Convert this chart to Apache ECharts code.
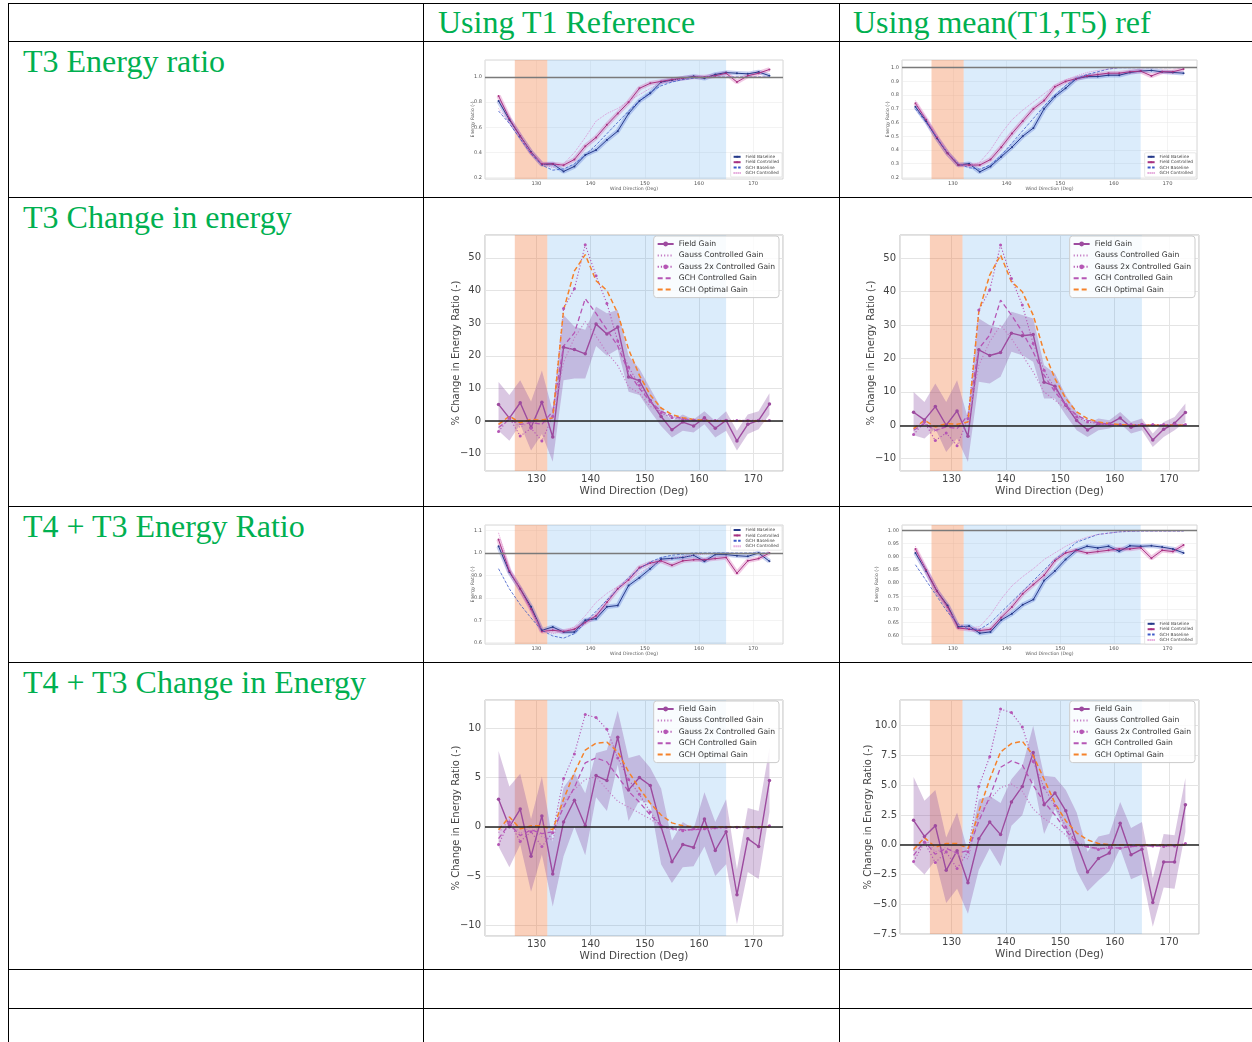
<!DOCTYPE html>
<html>
<head>
<meta charset="utf-8">
<script src="https://cdn.jsdelivr.net/npm/echarts@6/dist/echarts.min.js"></script>
<style>
body { margin: 0; background: #fff; }
#page { position: relative; width: 1252px; height: 1042px; overflow: hidden; background: #fff; }
#page svg { position: absolute; left: 0; top: 0; }
.ch { position: absolute; }
.hd { font-family: 'Liberation Serif', 'Times New Roman', serif; font-size: 32px; fill: #00b050; }
</style>
</head>
<body>
<div id="page">
<svg width="1252" height="1042">
  <g stroke="#000" stroke-width="1">
    <line x1="8" y1="3.5" x2="1252" y2="3.5"/>
    <line x1="8" y1="41.5" x2="1252" y2="41.5"/>
    <line x1="8" y1="197.5" x2="1252" y2="197.5"/>
    <line x1="8" y1="506.5" x2="1252" y2="506.5"/>
    <line x1="8" y1="662.5" x2="1252" y2="662.5"/>
    <line x1="8" y1="969.5" x2="1252" y2="969.5"/>
    <line x1="8" y1="1008.5" x2="1252" y2="1008.5"/>
    <line x1="8.5" y1="3" x2="8.5" y2="1042"/>
    <line x1="423.5" y1="3" x2="423.5" y2="1042"/>
    <line x1="839.5" y1="3" x2="839.5" y2="1042"/>
  </g>
  <text class="hd" x="438" y="33">Using T1 Reference</text>
  <text class="hd" x="853" y="33">Using mean(T1,T5) ref</text>
  <text class="hd" x="23" y="72">T3 Energy ratio</text>
  <text class="hd" x="23" y="228">T3 Change in energy</text>
  <text class="hd" x="23" y="537">T4 + T3 Energy Ratio</text>
  <text class="hd" x="23" y="693">T4 + T3 Change in Energy</text>
</svg>
<div class="ch" id="cA"></div>
<div class="ch" id="cB"></div>
<div class="ch" id="cC"></div>
<div class="ch" id="cD"></div>
<div class="ch" id="cE"></div>
<div class="ch" id="cF"></div>
<div class="ch" id="cG"></div>
<div class="ch" id="cH"></div>
</div>
<script>
// wind directions (deg)
var wind = [123,125,127,129,131,133,135,137,139,141,143,145,147,149,151,153,155,157,159,161,163,165,167,169,171,173];
var orangeSpan = [126, 132];
var blueSpan = [132, 165];

// T3 energy ratio, T1 reference
var r1FieldBase = [0.81,0.66,0.53,0.405,0.305,0.31,0.25,0.29,0.38,0.42,0.50,0.57,0.71,0.81,0.87,0.96,0.975,0.99,1.005,0.99,1.02,1.035,1.03,1.025,1.04,1.01];
var r1FieldCtrl = [0.85,0.67,0.53,0.40,0.31,0.31,0.30,0.345,0.45,0.52,0.62,0.71,0.80,0.91,0.95,0.965,0.98,0.99,1.0,1.0,1.01,1.03,0.96,1.01,1.03,1.06];
var r1GchBase = [0.73,0.63,0.51,0.39,0.30,0.26,0.27,0.31,0.38,0.46,0.55,0.64,0.73,0.81,0.88,0.93,0.96,0.98,0.99,1.0,1.0,1.0,1.0,1.0,1.0,1.0];
var r1GchCtrl = [0.75,0.64,0.52,0.40,0.31,0.28,0.31,0.40,0.52,0.65,0.71,0.75,0.81,0.86,0.91,0.95,0.97,0.99,1.0,1.0,1.0,1.0,1.0,1.0,1.0,1.0];

// T3 energy ratio, mean(T1,T5) reference
var r2FieldBase = [0.715,0.61,0.485,0.375,0.29,0.30,0.24,0.28,0.35,0.42,0.50,0.56,0.70,0.79,0.85,0.92,0.935,0.935,0.945,0.945,0.965,0.975,0.98,0.97,0.965,0.96];
var r2FieldCtrl = [0.74,0.62,0.49,0.375,0.29,0.29,0.29,0.33,0.42,0.52,0.61,0.70,0.76,0.86,0.90,0.92,0.94,0.95,0.96,0.96,0.97,0.975,0.94,0.97,0.97,0.99];
var r2GchBase = [0.70,0.60,0.49,0.38,0.30,0.27,0.26,0.29,0.36,0.45,0.54,0.63,0.72,0.80,0.87,0.92,0.95,0.97,0.99,1.0,1.0,1.0,1.0,1.0,1.0,1.0];
var r2GchCtrl = [0.76,0.62,0.50,0.38,0.30,0.28,0.31,0.40,0.52,0.62,0.69,0.75,0.81,0.87,0.91,0.94,0.965,0.98,0.99,1.0,1.0,1.0,1.0,1.0,1.0,1.0];

// T4 + T3 energy ratio, T1 reference
var r3FieldBase = [1.03,0.915,0.84,0.76,0.655,0.67,0.647,0.647,0.70,0.707,0.76,0.766,0.855,0.89,0.93,0.973,0.976,0.98,0.99,0.963,0.993,0.993,0.988,0.985,1.0,0.963];
var r3FieldCtrl = [1.06,0.92,0.84,0.75,0.65,0.655,0.65,0.66,0.69,0.72,0.78,0.84,0.88,0.935,0.955,0.965,0.945,0.965,0.97,0.97,0.975,0.98,0.91,0.965,0.975,1.0];
var r3GchBase = [0.93,0.84,0.77,0.71,0.655,0.63,0.62,0.64,0.69,0.74,0.79,0.84,0.89,0.93,0.96,0.98,0.99,0.995,1.0,1.0,1.0,1.0,1.0,1.0,1.0,1.0];
var r3GchCtrl = [1.09,0.93,0.83,0.74,0.66,0.64,0.65,0.67,0.72,0.78,0.82,0.85,0.88,0.91,0.94,0.96,0.975,0.985,0.99,0.995,0.997,0.998,0.998,0.998,0.998,0.998];

// T4 + T3 energy ratio, mean(T1,T5) reference
var r4FieldBase = [0.915,0.846,0.77,0.715,0.634,0.637,0.61,0.615,0.66,0.684,0.718,0.738,0.81,0.846,0.89,0.925,0.94,0.934,0.94,0.921,0.942,0.94,0.942,0.937,0.93,0.915];
var r4FieldCtrl = [0.93,0.85,0.77,0.71,0.63,0.625,0.62,0.625,0.67,0.71,0.76,0.795,0.83,0.885,0.915,0.925,0.915,0.92,0.925,0.93,0.93,0.935,0.895,0.925,0.92,0.945];
var r4GchBase = [0.87,0.81,0.75,0.69,0.645,0.625,0.625,0.65,0.69,0.73,0.77,0.81,0.85,0.89,0.92,0.955,0.97,0.985,0.99,0.995,0.997,0.998,0.998,0.998,0.998,0.998];
var r4GchCtrl = [0.94,0.84,0.76,0.70,0.645,0.63,0.635,0.68,0.74,0.79,0.825,0.855,0.89,0.915,0.94,0.96,0.975,0.985,0.99,0.995,0.997,0.998,0.998,0.998,0.998,0.998];

// T3 % change, T1 reference
var g1Field = [5.1,0.9,5.6,-2.0,5.8,-4.9,22.6,21.9,20.6,29.7,26.7,28.8,13.5,12.4,6.3,1.4,-2.7,-0.3,-1.5,1.0,-2.2,0.2,-6.1,-1.0,0.2,5.2];
var g1Lo = [-3,-6,-1,-9,-4,-12.5,12.5,13,13,23,20,22,9,8,3,-1.5,-5,-3,-3.5,-1,-5,-3,-9,-4,-2.5,2];
var g1Hi = [12,8,12.5,6,15.5,3,32.5,29,28,35,33,34,20,16,10,4,0,2,0.5,3,0,3,-3,2,3,8.5];
var g1Gauss = [-1,1,-2,0,-1,1,18,25.5,30.5,26,21,17,10.5,8.5,4.5,3,1.5,0.5,0.2,0,0,0,0,0,0,0];
var g1Gauss2x = [-3.2,1,-4.6,-2.2,-6.1,1.5,34.5,40.5,54,44.5,36,24.5,16.5,11,6,2.5,1,0.5,0.3,0.2,0.2,0.2,0.2,0.2,0.2,0.2];
var g1GchCtrl = [-2,0.5,-1,-0.5,-1,3,23,27,37.5,33,28,23,15,10,6,3,1.5,0.8,0.3,0.1,0,0,0,0,0,0];
var g1GchOpt = [-1,1.5,-0.5,0.5,0.3,1,34,46,51,43,40,33,22,14,8,4,2,1,0.5,0.2,0,0,0,0,0,0];

// T3 % change, mean(T1,T5) reference
var g2Field = [3.9,1.6,5.6,0,4.3,-3.3,22.6,20.9,21.8,27.6,26.8,27.2,12.9,11.7,6.0,1.4,-1.4,0.4,0.4,2.2,-0.6,0.2,-4.4,-1.2,0.6,3.8];
var g2Lo = [-3,-4,-1,-8,-4,-11,13,12.5,14.5,22,21,19,8,8,3,-1.5,-3.5,-1.5,-1,0.5,-2.5,-1.5,-6.5,-3.5,-1.5,1];
var g2Hi = [10,7,12.5,7,13.5,2,32,30,29,34,33,32,18,15.5,9,4,0.5,2,1.5,4,1,2,-2.5,1,2.5,6.5];
var g2Gauss = [-1,1,-2,0,-1,1,18,25,30,26,21,16,10,7.5,5,3,1.5,0.5,0.2,0,0,0,0,0,0,0];
var g2Gauss2x = [-2.8,1,-4.6,-2.3,-6.1,2,34.5,40.5,54,44,36,24.5,16.5,11,6.2,2.5,1,0.5,0.3,0.2,0.2,0.2,0.2,0.2,0.2,0.2];
var g2GchCtrl = [-1.5,0.5,-1.5,-0.5,-1,3,23,27,37.5,33,28,22,15,10,6,3,1.5,0.8,0.3,0.1,0,0,0,0,0,0];
var g2GchOpt = [-1,1.5,-0.5,0.5,0.3,1,34,45,51,43,40,33,22,14,8,4,2,1,0.5,0.2,0,0,0,0,0,0];

// T4 + T3 % change, T1 reference
var g3Field = [2.8,0,1.8,-3.0,1.1,-4.8,0.5,2.7,0.1,5.2,4.7,9.1,3.75,5.0,4.2,0,-3.55,-1.8,-2.1,0.8,-2.4,-0.5,-6.9,-1.2,-2.0,4.7];
var g3Lo = [-2,-4.1,-1.8,-6.6,-2.8,-8.1,-3,0,-2.9,3,1.6,6.3,0.6,2.7,2.4,-3.8,-5.7,-4.1,-4,-2,-5,-3.8,-9.9,-4.6,-5.3,1.5];
var g3Hi = [7.7,4.1,5.4,0.8,5.1,-1.5,4,5.5,3.4,7.5,7.8,11.8,7,7.3,6,3.9,-1.4,0.5,-0.2,3.5,0.5,2.8,-4.3,1.9,1.6,8];
var g3Gauss = [-0.6,0.7,-0.7,0,-1,-1.3,2.5,3.8,4.8,5.1,3.8,2.6,2.0,1.4,0.8,0,-0.3,-0.4,-0.3,-0.3,-0.2,-0.1,-0.1,-0.1,-0.1,0.1];
var g3Gauss2x = [-1.8,0.5,-1.5,-0.5,-2,-0.6,4.9,7.4,11.4,11.1,9.9,7.0,4.8,3.3,1.5,0.1,-0.1,-0.4,-0.2,-0.2,-0.1,-0.05,-0.05,-0.1,-0.1,0.1];
var g3GchCtrl = [-1.2,0.3,-0.9,-0.3,-0.7,-0.5,2,4,6.5,7.0,6.6,5.1,3.6,2.5,1.2,0.1,-0.2,-0.3,-0.3,-0.2,-0.1,-0.05,-0.05,-0.05,0,0];
var g3GchOpt = [-0.3,1.0,-0.2,0.1,0.1,-0.3,2.8,5.5,7.8,8.5,8.6,7.6,5.6,3.9,2.4,1.2,0.4,0.1,0,0,0,0,0,0,0,0];

// T4 + T3 % change, mean(T1,T5) reference
var g4Field = [2.05,0.7,1.6,-2.15,-0.5,-3.2,0.5,1.9,0.85,3.6,4.9,7.75,3.35,4.35,2.85,0.15,-2.3,-1.15,-0.7,1.8,-0.85,-0.37,-4.85,-1.45,-1.45,3.35];
var g4Lo = [-1.6,-2.5,-1.3,-4.9,-3.7,-5.8,-2.1,-0.3,-1.8,1.6,2.5,5.5,0.9,3,1.2,-2.2,-3.9,-3,-2.2,-0.3,-2.9,-2.5,-6.9,-3.6,-3.7,1.1];
var g4Hi = [5.7,3.7,4.6,0.6,2.7,-0.6,3.8,4.1,3.5,5.5,6.6,10,5.8,5.7,4.6,2.7,-0.6,0.7,0.9,3.6,1.4,1.9,-2.8,0.9,0.8,5.6];
var g4Gauss = [-0.5,0.6,-0.6,-0.2,-0.8,-1.2,2.5,3.8,4.8,5.1,4.5,3.0,2.2,1.6,0.8,0,-0.2,-0.4,-0.3,-0.3,-0.2,-0.1,-0.1,-0.1,-0.1,0.1];
var g4Gauss2x = [-1.4,0.2,-1.5,-0.6,-2.0,-0.6,4.9,7.4,11.4,11.1,9.9,7.0,4.8,3.3,1.5,0.15,-0.1,-0.4,-0.2,-0.3,-0.1,-0.1,-0.1,-0.15,-0.1,0.1];
var g4GchCtrl = [-0.9,0.3,-0.8,-0.3,-0.7,-0.5,2.0,4.0,6.5,7.05,6.7,5.0,3.6,2.5,1.2,0.1,-0.2,-0.3,-0.3,-0.25,-0.15,-0.1,-0.1,-0.1,-0.05,0];
var g4GchOpt = [-0.4,0.6,-0.2,0.1,0.1,-0.3,2.8,5.5,7.8,8.5,8.7,7.5,5.5,3.5,2.0,1.0,0.4,0.1,0,0,0,0,0,0,0,0];

var FONT = 'DejaVu Sans';
var NO_MARK = { opacity: 0 };   // legend entries drawn without a marker

function pts(ys) {
  return wind.map(function (x, i) { return [x, ys[i]]; });
}

// tick label formatter: hide the edge labels that are not on the step
function fmt(step, digits) {
  return function (v) {
    var k = v / step;
    if (Math.abs(k - Math.round(k)) > 1e-6) return '';
    return (Math.round(k) * step).toFixed(digits).replace('-', '\u2212');
  };
}

function spans() {
  return {
    silent: true,
    data: [
      [{ xAxis: orangeSpan[0], itemStyle: { color: 'rgba(240,120,60,0.35)' } }, { xAxis: orangeSpan[1] }],
      [{ xAxis: blueSpan[0], itemStyle: { color: 'rgba(30,136,229,0.16)' } }, { xAxis: blueSpan[1] }]
    ]
  };
}

// shaded band between lo and hi, drawn as one polygon through the axes
function bandSeries(lo, hi, fill) {
  return {
    type: 'custom', name: 'band', silent: true, z: 2,
    data: [[wind[0], lo[0]]],
    renderItem: function (params, api) {
      var up = wind.map(function (x, i) { return api.coord([x, hi[i]]); });
      var dn = wind.map(function (x, i) { return api.coord([x, lo[i]]); }).reverse();
      return { type: 'polygon', shape: { points: up.concat(dn) }, style: { fill: fill } };
    }
  };
}

function place(id, lay) {
  var el = document.getElementById(id);
  el.style.left = lay.cell[0] + 'px';
  el.style.top = lay.cell[1] + 'px';
  el.style.width = lay.cell[2] + 'px';
  el.style.height = lay.cell[3] + 'px';
  return echarts.init(el);
}

function gridOf(lay, border) {
  return {
    left: lay.ax[0] - lay.cell[0],
    top: lay.ax[1] - lay.cell[1],
    width: lay.ax[2],
    height: lay.ax[3],
    show: true,
    borderColor: '#bdbdbd',
    borderWidth: border
  };
}

// small energy ratio plots
function ratioChart(id, lay, yr, fb, fc, gb, gc, legendTop) {
  var myChart = place(id, lay);
  var legend = {
    orient: 'vertical',
    right: lay.cell[0] + lay.cell[2] - (lay.ax[0] + lay.ax[2]) + 1,
    data: [
      { name: 'Field Baseline' },
      { name: 'Field Controlled' },
      { name: 'GCH Baseline', itemStyle: NO_MARK },
      { name: 'GCH Controlled', itemStyle: NO_MARK }
    ],
    itemWidth: 7, itemHeight: 2.5, itemGap: 1.4,
    padding: [2, 3, 2, 2],
    backgroundColor: 'rgba(255,255,255,0.8)',
    borderColor: '#d0d0d0', borderWidth: 0.5, borderRadius: 1,
    textStyle: { fontSize: 4.3, color: '#444', fontFamily: FONT }
  };
  if (legendTop) legend.top = lay.ax[1] - lay.cell[1] + 1;
  else legend.bottom = lay.cell[1] + lay.cell[3] - (lay.ax[1] + lay.ax[3]) + 2;

  var option = {
    animation: false,
    textStyle: { fontFamily: FONT },
    grid: gridOf(lay, 0.6),
    legend: legend,
    xAxis: {
      type: 'value', min: 120.5, max: 175.5, splitNumber: 5,
      axisLine: { show: false }, axisTick: { show: false },
      splitLine: { lineStyle: { color: '#e6e6e6', width: 0.5 } },
      axisLabel: { fontSize: 5.2, color: '#555', margin: 2, formatter: fmt(10, 0) },
      name: 'Wind Direction (Deg)', nameLocation: 'middle', nameGap: 7, nameMoveOverlap: false,
      nameTextStyle: { fontSize: 4.6, color: '#555' }
    },
    yAxis: {
      type: 'value', min: yr[0], max: yr[1], splitNumber: yr[2],
      axisLine: { show: false }, axisTick: { show: false },
      splitLine: { lineStyle: { color: '#e6e6e6', width: 0.5 } },
      axisLabel: { fontSize: 5, color: '#555', margin: 3, formatter: fmt(yr[3], yr[4]) },
      name: 'Energy Ratio (-)', nameLocation: 'middle', nameGap: yr[5], nameMoveOverlap: false,
      nameTextStyle: { fontSize: 4.6, color: '#555' }
    },
    series: [
      { name: 'fbBand', type: 'line', data: pts(fb), symbol: 'none', silent: true,
        lineStyle: { width: 4.5, color: 'rgba(70,100,210,0.3)' }, markArea: spans() },
      { name: 'fcBand', type: 'line', data: pts(fc), symbol: 'none', silent: true,
        lineStyle: { width: 4.5, color: 'rgba(210,80,170,0.3)' } },
      { name: 'Field Baseline', type: 'line', data: pts(fb), symbol: 'circle', symbolSize: 2,
        itemStyle: { color: '#263a8a' }, lineStyle: { color: '#263a8a', width: 1 },
        markLine: { silent: true, symbol: 'none', label: { show: false },
          lineStyle: { color: '#7a7a7a', width: 1.4, type: 'solid' }, data: [{ yAxis: 1 }] } },
      { name: 'Field Controlled', type: 'line', data: pts(fc), symbol: 'circle', symbolSize: 2,
        itemStyle: { color: '#a83282' }, lineStyle: { color: '#a83282', width: 1 } },
      { name: 'GCH Baseline', type: 'line', data: pts(gb), symbol: 'none',
        itemStyle: { color: '#3b58c8' }, lineStyle: { color: '#3b58c8', width: 0.8, type: [3, 1.5] } },
      { name: 'GCH Controlled', type: 'line', data: pts(gc), symbol: 'none',
        itemStyle: { color: '#d97fcb' }, lineStyle: { color: '#d97fcb', width: 0.8, type: [1, 1] } }
    ]
  };
  myChart.setOption(option);
}

// large % change plots
function gainChart(id, lay, yr, field, lo, hi, gauss, gauss2x, gchCtrl, gchOpt) {
  var myChart = place(id, lay);
  var yAxis = {
    type: 'value', min: yr[0], max: yr[1],
    axisLine: { show: false }, axisTick: { show: false },
    splitLine: { lineStyle: { color: '#e4e4e4', width: 1 } },
    axisLabel: { fontSize: 10, color: '#444', margin: yr[6], formatter: fmt(yr[3], yr[4]) },
    name: '% Change in Energy Ratio (-)', nameLocation: 'middle', nameGap: yr[5], nameMoveOverlap: false,
    nameTextStyle: { fontSize: 10, color: '#444' }
  };
  if (yr[2] < 0) yAxis.interval = yr[3];
  else yAxis.splitNumber = yr[2];

  var option = {
    animation: false,
    textStyle: { fontFamily: FONT },
    grid: gridOf(lay, 1),
    legend: {
      orient: 'vertical',
      right: lay.cell[0] + lay.cell[2] - (lay.ax[0] + lay.ax[2]) + 4,
      top: lay.ax[1] - lay.cell[1] + 1,
      data: [
        { name: 'Field Gain' },
        { name: 'Gauss Controlled Gain', itemStyle: NO_MARK },
        { name: 'Gauss 2x Controlled Gain' },
        { name: 'GCH Controlled Gain', itemStyle: NO_MARK },
        { name: 'GCH Optimal Gain', itemStyle: NO_MARK }
      ],
      itemWidth: 16, itemHeight: 6, itemGap: 3.4,
      padding: [4, 4, 4, 3],
      backgroundColor: 'rgba(255,255,255,0.85)',
      borderColor: '#cccccc', borderWidth: 1, borderRadius: 3,
      textStyle: { fontSize: 7.6, color: '#333', fontFamily: FONT }
    },
    xAxis: {
      type: 'value', min: 120.5, max: 175.5, splitNumber: 5,
      axisLine: { show: false }, axisTick: { show: false },
      splitLine: { lineStyle: { color: '#e4e4e4', width: 1 } },
      axisLabel: { fontSize: 10, color: '#444', margin: 3, formatter: fmt(10, 0) },
      name: 'Wind Direction (Deg)', nameLocation: 'middle', nameGap: 15, nameMoveOverlap: false,
      nameTextStyle: { fontSize: 10.4, color: '#444' }
    },
    yAxis: yAxis,
    series: [
      bandSeries(lo, hi, 'rgba(140,80,165,0.32)'),
      { name: 'Field Gain', type: 'line', data: pts(field), symbol: 'circle', symbolSize: 3.5, z: 3,
        itemStyle: { color: '#9d4b9f' }, lineStyle: { color: '#9d4b9f', width: 1.4 },
        markArea: spans(),
        markLine: { silent: true, symbol: 'none', label: { show: false },
          lineStyle: { color: '#222', width: 1.5, type: 'solid' }, data: [{ yAxis: 0 }] } },
      { name: 'Gauss Controlled Gain', type: 'line', data: pts(gauss), symbol: 'none', z: 3,
        itemStyle: { color: '#c47cc4' }, lineStyle: { color: '#c47cc4', width: 1.1, type: [1.2, 2] } },
      { name: 'Gauss 2x Controlled Gain', type: 'line', data: pts(gauss2x), symbol: 'circle', symbolSize: 3, z: 3,
        itemStyle: { color: '#b556b5' }, lineStyle: { color: '#b556b5', width: 1.1, type: [1.2, 2] } },
      { name: 'GCH Controlled Gain', type: 'line', data: pts(gchCtrl), symbol: 'none', z: 3,
        itemStyle: { color: '#b556b5' }, lineStyle: { color: '#b556b5', width: 1.3, type: [5, 3] } },
      { name: 'GCH Optimal Gain', type: 'line', data: pts(gchOpt), symbol: 'none', z: 3,
        itemStyle: { color: '#f5822a' }, lineStyle: { color: '#f5822a', width: 1.5, type: [5, 3] } }
    ]
  };
  myChart.setOption(option);
}

// cell box and axes box, page pixels: [left, top, width, height]
var layA = { cell: [424, 42, 414, 154], ax: [485, 60, 298, 119] };
var layB = { cell: [840, 42, 412, 154], ax: [902, 60, 295, 119] };
var layC = { cell: [424, 507, 414, 154], ax: [485, 525, 298, 119] };
var layD = { cell: [840, 507, 412, 154], ax: [902, 525, 295, 121] };
var layE = { cell: [424, 198, 414, 307], ax: [485, 235, 298, 236] };
var layF = { cell: [840, 198, 412, 307], ax: [900, 235, 299, 236] };
var layG = { cell: [424, 663, 414, 305], ax: [485, 700, 298, 236] };
var layH = { cell: [840, 663, 412, 305], ax: [900, 700, 299, 234] };

// [min, max, splitNumber, step, digits, nameGap]
ratioChart('cA', layA, [0.19, 1.135, 5, 0.2, 1, 10], r1FieldBase, r1FieldCtrl, r1GchBase, r1GchCtrl, false);
ratioChart('cB', layB, [0.188, 1.056, 8, 0.1, 1, 12], r2FieldBase, r2FieldCtrl, r2GchBase, r2GchCtrl, false);
ratioChart('cC', layC, [0.594, 1.125, 5, 0.1, 1, 10], r3FieldBase, r3FieldCtrl, r3GchBase, r3GchCtrl, true);
ratioChart('cD', layD, [0.569, 1.021, 9, 0.05, 2, 23], r4FieldBase, r4FieldCtrl, r4GchBase, r4GchCtrl, false);

// [min, max, splitNumber (-1 = fixed interval), step, digits, nameGap, labelMargin]
gainChart('cE', layE, [-15.3, 57, 7, 10, 0, 24, 4], g1Field, g1Lo, g1Hi, g1Gauss, g1Gauss2x, g1GchCtrl, g1GchOpt);
gainChart('cF', layF, [-13.7, 57, 7, 10, 0, 24, 4], g2Field, g2Lo, g2Hi, g2Gauss, g2Gauss2x, g2GchCtrl, g2GchOpt);
gainChart('cG', layG, [-11.09, 12.88, 5, 5, 0, 24, 4], g3Field, g3Lo, g3Hi, g3Gauss, g3Gauss2x, g3GchCtrl, g3GchOpt);
gainChart('cH', layH, [-7.5, 12.16, -1, 2.5, 1, 27, 3], g4Field, g4Lo, g4Hi, g4Gauss, g4Gauss2x, g4GchCtrl, g4GchOpt);
</script>
</body>
</html>
